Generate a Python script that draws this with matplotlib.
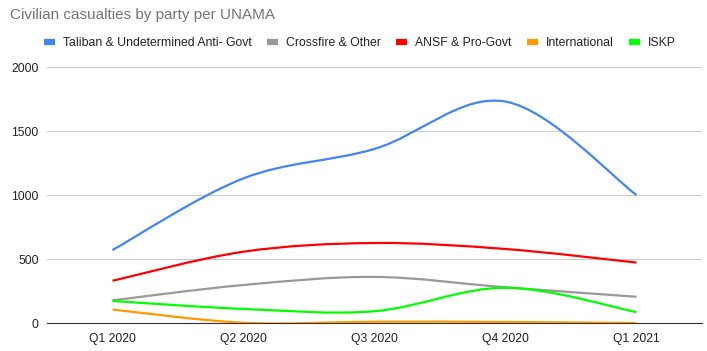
import matplotlib.pyplot as plt
import numpy as np
from matplotlib.path import Path
from matplotlib.patches import PathPatch
from matplotlib.lines import Line2D

quarters = ['Q1 2020', 'Q2 2020', 'Q3 2020', 'Q4 2020', 'Q1 2021']
taliban = [570, 1130, 1360, 1730, 1000]
crossfire = [177, 297, 360, 279, 205]
ansf = [330, 557, 625, 578, 472]
international = [105, 2, 10, 8, 0]
iskp = [172, 110, 92, 275, 85]

names = ['Taliban & Undetermined Anti- Govt', 'Crossfire & Other',
         'ANSF & Pro-Govt', 'International', 'ISKP']
series = [taliban, crossfire, ansf, international, iskp]
colors = ['#4285F4', '#999999', '#FF0000', '#FF9900', '#00FF00']

plt.rcParams['font.family'] = ['Liberation Sans', 'DejaVu Sans']


def smooth_path(xs, ys, k=0.17):
    # catmull-rom style bezier through the data points
    verts = [(xs[0], ys[0])]
    codes = [Path.MOVETO]
    n = len(xs)
    for i in range(n - 1):
        x0, y0 = xs[max(i - 1, 0)], ys[max(i - 1, 0)]
        x1, y1 = xs[i], ys[i]
        x2, y2 = xs[i + 1], ys[i + 1]
        x3, y3 = xs[min(i + 2, n - 1)], ys[min(i + 2, n - 1)]
        c1 = (x1 + (x2 - x0) * k, y1 + (y2 - y0) * k)
        c2 = (x2 - (x3 - x1) * k, y2 - (y3 - y1) * k)
        verts += [c1, c2, (x2, y2)]
        codes += [Path.CURVE4] * 3
    return Path(verts, codes)


fig = plt.figure(figsize=(7.07, 3.51), dpi=100)
ax = fig.add_axes([47 / 707, 28 / 351, 655 / 707, 256 / 351])
x = np.arange(len(quarters))
for ys, c in zip(series, colors):
    ax.add_patch(PathPatch(smooth_path(x, ys), fill=False, edgecolor=c,
                           lw=1.6, capstyle='butt', zorder=3))

ax.set_xlim(-0.5, len(quarters) - 0.5)
ax.set_ylim(0, 2000)
ax.set_yticks([0, 500, 1000, 1500, 2000])
ax.set_xticks(x)
ax.set_xticklabels(quarters)
ax.grid(axis='y', color='#cccccc', lw=0.8)
ax.set_axisbelow(True)
for s in ['top', 'right', 'left']:
    ax.spines[s].set_visible(False)
ax.spines['bottom'].set_color('#333333')
ax.tick_params(length=0, labelsize=8.7, colors='#222222')
ax.tick_params(axis='y', pad=6)
ax.tick_params(axis='x', pad=7)

fig.text(10 / 707, 1 - 15 / 351, 'Civilian casualties by party per UNAMA',
         fontsize=11, color='#757575', va='center')

handles = [Line2D([], [], color=c, lw=4.5, solid_capstyle='butt') for c in colors]
fig.legend(handles, names, loc='center left', bbox_to_anchor=(33 / 707, 1 - 43 / 351),
           ncol=5, frameon=False, fontsize=8.8, handlelength=0.9,
           handletextpad=0.65, columnspacing=1.25, labelcolor='#222222')

fig.savefig('out.png', dpi=100)
